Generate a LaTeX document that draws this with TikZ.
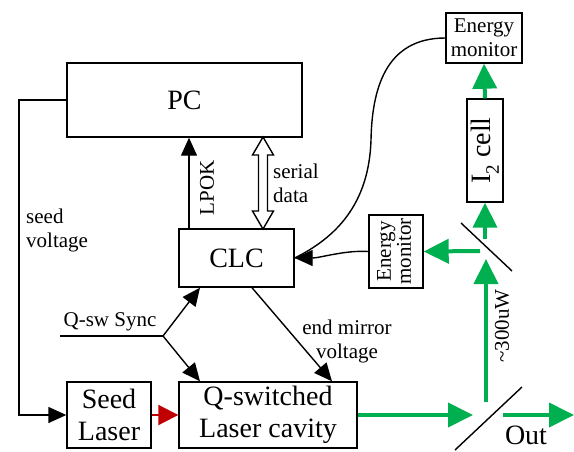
\documentclass[tikz,border=0pt]{standalone}
\usepackage{fontspec}
\setmainfont{Liberation Serif}
\usetikzlibrary{arrows.meta,calc}
\definecolor{beam}{HTML}{00B050}
\definecolor{seedred}{HTML}{C00000}
\newcommand{\bigf}{\fontsize{28}{33}\selectfont}
\newcommand{\smf}{\fontsize{21}{24}\selectfont}
\tikzset{
  box/.style={draw, line width=1.4pt, inner sep=0pt, align=center},
  blk/.style={line width=1.4pt, -{Triangle[length=18pt,width=16pt]}},
  grn/.style={draw=beam, line width=4pt, -{Triangle[length=25pt,width=24pt]}},
  redarr/.style={draw=seedred, line width=2pt, -{Triangle[length=20pt,width=20pt]}},
  lbl/.style={inner sep=0pt, align=center, font=\smf},
  mirror/.style={line width=1.4pt},
}
\begin{document}
\begin{tikzpicture}[x=1pt,y=-1pt]
\useasboundingbox (0,0) rectangle (574,451);
% boxes
\node[box, minimum width=235, minimum height=74, font=\bigf] (pc) at (184.5,100) {PC};
\node[box, minimum width=115, minimum height=58, font=\bigf] (clc) at (236.5,258) {CLC};
\node[box, minimum width=84, minimum height=66, font=\bigf] (seed) at (109,415) {Seed\\[-1pt]Laser};
\node[box, minimum width=178, minimum height=66, font=\bigf] (qsw) at (268,415) {Q-switched\\[-1pt]Laser cavity};
\node[box, minimum width=76, minimum height=50, font=\smf] (em1) at (484,38) {Energy\\monitor};
\node[box, minimum width=36, minimum height=103, font=\bigf] (i2) at (485,150.5) {\rotatebox{90}{I\raisebox{-0.3em}{\fontsize{19}{19}\selectfont 2} cell}};
\node[box, minimum width=54, minimum height=73, font=\smf] (em2) at (396,251.5) {\rotatebox{90}{\begin{tabular}{@{}c@{}}Energy\\[-4pt]monitor\end{tabular}}};
% mirrors
\draw[mirror] (461,223) -- (512,271);
\draw[mirror] (455,450) -- (522,387);
% coordinates
\coordinate (sv) at (19,300);
\coordinate (lp) at (189,0);
\coordinate (qs0) at (60,336);
\coordinate (qs1) at (163,336);
\coordinate (qt) at (200,0);
\coordinate (emA) at (252,0);
\coordinate (emB) at (332,0);
\coordinate (bs2in) at (473,415);
\coordinate (outA) at (503,415);
\coordinate (outB) at (574,415);
\coordinate (upA) at (486,402);
\coordinate (upB) at (486,259);
\coordinate (bsL) at (480,251);
\coordinate (bsU) at (485,239);
% black connectors
\draw[blk] (pc.west) -| (sv) |- (seed.west);
\draw[blk] (clc.north -| lp) -- (pc.south -| lp);
\draw[line width=1.4pt] (qs0) -- (qs1);
\draw[blk] (qs1) -- (qt |- clc.south);
\draw[blk] (qs1) -- (qt |- qsw.north);
\draw[blk] (clc.south -| emA) -- (qsw.north -| emB);
\draw[line width=1.4pt] (em1.west) .. controls (385,38) and (372,90) .. (371,140)
   .. controls (369,205) and (335,238) .. (clc.east);
\draw[blk] (em2.west) .. controls (345,250) and (320,258) .. (clc.east);
% serial data double arrow
\draw[line width=1.4pt, fill=white] (263,137) -- (273.5,155) -- (267.5,155) -- (267.5,211) -- (273.5,211) -- (263,229)
  -- (252.5,211) -- (258.5,211) -- (258.5,155) -- (252.5,155) -- cycle;
% red seed arrow
\draw[redarr] (seed.east) -- (qsw.west);
% green beams
\draw[grn] (qsw.east) -- (bs2in);
\draw[grn] (outA) -- (outB);
\draw[grn] (upA) -- (upB);
\draw[grn] (bsL) -- (em2.east);
\draw[grn] (bsU) -- (i2.south);
\draw[grn] (i2.north) -- (em1.south);
% labels
\node[lbl, anchor=west, align=left] (sv-l) at (26,230) {seed\\voltage};
\node[lbl] (qs-l) at (110,322) {Q-sw Sync};
\node[lbl, anchor=west, align=left] (sd-l) at (273,183) {serial\\data};
\node[lbl, rotate=90] (lpok-l) at (207,188) {LPOK};
\node[lbl] (em-l) at (347,341) {end mirror\\voltage};
\node[lbl, rotate=90] (uw-l) at (502,326) {\textasciitilde300uW};
\node[inner sep=0pt, font=\bigf] (out-l) at (526,435) {Out};
\end{tikzpicture}
\end{document}
